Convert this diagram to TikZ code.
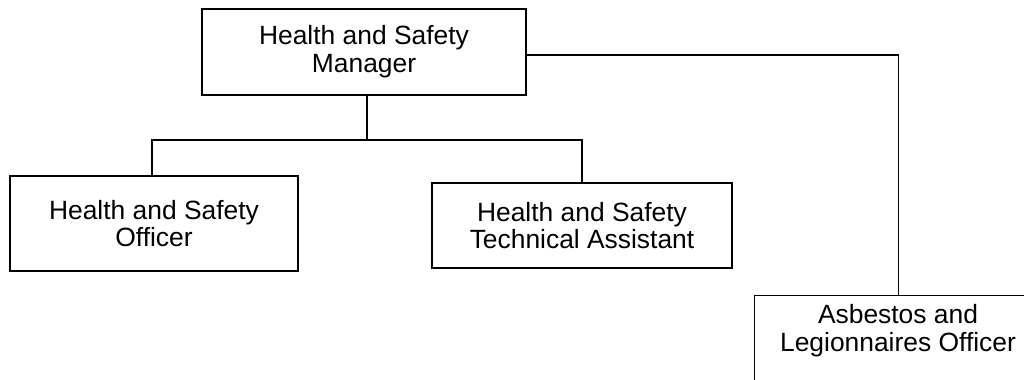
\documentclass[tikz,border=0pt]{standalone}
\usepackage{fontspec}
\setmainfont{Liberation Sans}
\begin{document}
\begin{tikzpicture}[x=0.75pt,y=-0.75pt,
  orgbox/.style={draw=black, line width=1.1pt, fill=white, inner sep=0pt, align=center,
    font=\fontsize{19.8pt}{20.8pt}\selectfont},
  orgtext/.style={inner sep=0pt, align=center, font=\fontsize{19.8pt}{20.8pt}\selectfont},
  link/.style={draw=black, line width=1.1pt}]
\fill[white] (0,0) rectangle (1024,379);
\useasboundingbox (0,0) rectangle (1024,379);
\node[orgbox, minimum width=324*0.75pt, minimum height=86*0.75pt] (mgr) at (364,52) {Health and Safety\\Manager};
\node[orgbox, minimum width=288*0.75pt, minimum height=95*0.75pt] (off) at (154,223.5) {Health and Safety\\Officer};
\node[orgbox, minimum width=300*0.75pt, minimum height=85*0.75pt] (tech) at (582,225.5) {Health and Safety\\Technical Assistant};
\node[orgbox, minimum width=288*0.75pt, minimum height=120*0.75pt, anchor=north west] (asb) at (754,295) {};
\node[orgtext, anchor=north] (asbtxt) at (898,304) {Asbestos and\\Legionnaires Officer};
\coordinate (j) at (367,140);
\draw[link] (mgr.south -| j) -- (j);
\draw[link] ([xshift=-1.5pt]off.north) |- (j) -| (tech.north);
\draw[link] ([yshift=-2.25pt]mgr.east) -| (asb.north);
\end{tikzpicture}
\end{document}
